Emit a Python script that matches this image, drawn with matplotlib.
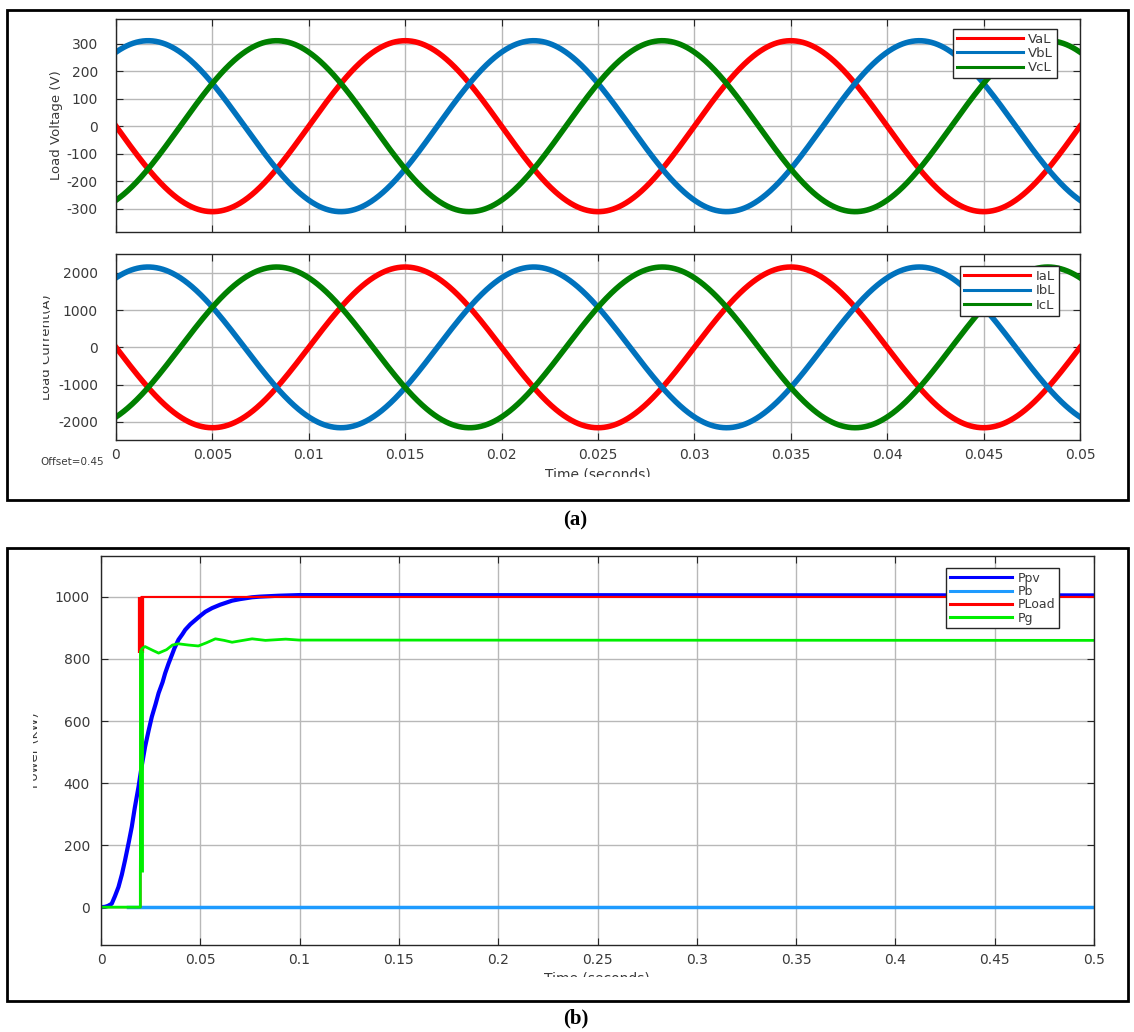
import numpy as np
import matplotlib
matplotlib.use("Agg")
from matplotlib import pyplot as plt
from matplotlib.patches import Rectangle
from matplotlib.transforms import Bbox

# ---- data ----
# (a) three phase load voltage / current, 50 Hz sinusoids
freq = 50.0
phase_deg = [0, -120, 120]          # a, b, c
v_peak = 311.0
i_peak = 2160.0
v_names = ["VaL", "VbL", "VcL"]
i_names = ["IaL", "IbL", "IcL"]
phase_colors = ["#ff0000", "#0072bd", "#008000"]
t_ac_end = 0.05
a_xticks = [0, 0.005, 0.01, 0.015, 0.02, 0.025, 0.03, 0.035, 0.04, 0.045, 0.05]
a_xlabels = ["0", "0.005", "0.01", "0.015", "0.02", "0.025", "0.03", "0.035", "0.04", "0.045", "0.05"]
v_ticks = [-300, -200, -100, 0, 100, 200, 300]
i_ticks = [-2000, -1000, 0, 1000, 2000]

# (b) power flow
ppv_t = [0, 0.002, 0.0035, 0.0054, 0.007, 0.0088, 0.0105, 0.0121, 0.014, 0.0155,
         0.017, 0.0189, 0.0205, 0.0222, 0.024, 0.0256, 0.0275, 0.029, 0.031, 0.0323,
         0.034, 0.0357, 0.037, 0.039, 0.041, 0.0424, 0.045, 0.0492, 0.0525, 0.0559,
         0.06, 0.066, 0.07, 0.0761, 0.08, 0.0896, 0.0997, 0.12, 0.5]
ppv = [0, 1, 4, 11, 35, 65, 105, 151, 210, 259,
       320, 388, 455, 517, 570, 614, 655, 690, 725, 754,
       785, 813, 835, 862, 880, 894, 912, 935, 952, 964,
       975, 988, 993, 999, 1001, 1004, 1006, 1006, 1005]
pb_t = [0.0135, 0.5]
pb = [0, 0]
pload_t = [0, 0.0199, 0.0199, 0.0203, 0.5]
pload = [0, 0, 820, 1000, 1000]
pload_jump = [820, 1000]
pg_t = [0, 0.0198, 0.0198, 0.0203, 0.0209, 0.0222, 0.026, 0.029, 0.033, 0.036, 0.039,
        0.044, 0.049, 0.053, 0.0576, 0.062, 0.066, 0.0761, 0.0828, 0.093, 0.0997, 0.5]
pg = [0, 0, 113, 830, 835, 840, 828, 819, 830, 845, 849,
      845, 842, 852, 865, 860, 854, 865, 860, 864, 861, 860]
pg_jump = [113, 830]
b_xticks = [0, 0.05, 0.1, 0.15, 0.2, 0.25, 0.3, 0.35, 0.4, 0.45, 0.5]
b_xlabels = ["0", "0.05", "0.1", "0.15", "0.2", "0.25", "0.3", "0.35", "0.4", "0.45", "0.5"]
b_yticks = [0, 200, 400, 600, 800, 1000]

W, H = 1134, 1032
TXT = "#3a3a3a"
plt.rcParams["font.family"] = ["DejaVu Sans"]
plt.rcParams["axes.unicode_minus"] = False


def px_axes(fig, left, top, right, bottom):
    return fig.add_axes([left / W, 1 - bottom / H, (right - left) / W, (bottom - top) / H])


def style(ax):
    ax.grid(True, color="#b8b8b8", lw=1)
    ax.set_axisbelow(True)
    for s in ax.spines.values():
        s.set_color("#262626")
        s.set_linewidth(1)
    ax.tick_params(direction="in", length=5, top=True, right=True,
                   labelsize=10, colors="#262626", labelcolor=TXT, pad=6)


def add_legend(ax, anchor, fs, spacing):
    leg = ax.legend(loc="upper left", bbox_to_anchor=anchor, fontsize=fs,
                    handlelength=5, handletextpad=0.4, borderpad=0.3,
                    labelspacing=spacing, fancybox=False, framealpha=1,
                    edgecolor="#262626", borderaxespad=0)
    for h in leg.get_lines():
        h.set_linewidth(2.2)
    for tx in leg.get_texts():
        tx.set_color(TXT)
    return leg


def clipped_text(fig, x, y, s, clip, **kw):
    t = fig.text(x / W, 1 - y / H, s, color=TXT, **kw)
    x0, y0, x1, y1 = clip
    t.set_clip_box(Bbox.from_extents(x0, H - y1, x1, H - y0))
    t.set_clip_on(True)
    return t


fig = plt.figure(figsize=(W / 100, H / 100), dpi=100)

# frames round the two panels
fig.patches.append(Rectangle((7 / W, 1 - 500 / H), 1121 / W, 490 / H, fill=False,
                             lw=2, ec="black", transform=fig.transFigure))
fig.patches.append(Rectangle((7 / W, 1 - 1001 / H), 1121 / W, 453 / H, fill=False,
                             lw=2, ec="black", transform=fig.transFigure))

t = np.linspace(0, t_ac_end, 1500)
w = 2 * np.pi * freq

# ---- voltage ----
ax1 = px_axes(fig, 116, 19, 1080, 232)
style(ax1)
for name, ph, c in zip(v_names, phase_deg, phase_colors):
    ax1.plot(t, -v_peak * np.sin(w * t + np.deg2rad(ph)), color=c, lw=4, label=name)
ax1.set_xlim(0, t_ac_end)
ax1.set_ylim(-385, 390)
ax1.set_xticks(a_xticks)
ax1.set_xticklabels([])
ax1.set_yticks(v_ticks)
ax1.tick_params(axis="y", pad=13)
add_legend(ax1, (0.868, 0.955), 9.5, 0.1)
clipped_text(fig, 63, 125, "Load Voltage (V)", (0, 0, W, H), rotation=90,
             ha="right", va="center", fontsize=9.5)

# ---- current ----
ax2 = px_axes(fig, 116, 254, 1080, 440)
style(ax2)
for name, ph, c in zip(i_names, phase_deg, phase_colors):
    ax2.plot(t, -i_peak * np.sin(w * t + np.deg2rad(ph)), color=c, lw=4, label=name)
ax2.set_xlim(0, t_ac_end)
ax2.set_ylim(-2490, 2510)
ax2.set_xticks(a_xticks)
ax2.set_xticklabels(a_xlabels)
ax2.set_yticks(i_ticks)
ax2.tick_params(axis="y", pad=13)
add_legend(ax2, (0.876, 0.935), 9.5, 0.1)
clipped_text(fig, 53, 347, "Load Current(A)", (43, 0, W, H), rotation=90,
             ha="right", va="center", fontsize=9.5)
clipped_text(fig, 598, 468, "Time (seconds)", (0, 0, W, 477), ha="center",
             va="top", fontsize=10)
fig.text(40 / W, 1 - 462 / H, "Offset=0.45", color=TXT, fontsize=7.5,
         ha="left", va="center")

# ---- power ----
ax3 = px_axes(fig, 101, 556, 1094, 945)
style(ax3)
ax3.plot(ppv_t, ppv, color="#0000ff", lw=3, label="Ppv")
ax3.plot(pb_t, pb, color="#1e9bff", lw=2.5, label="Pb")
ax3.plot(pload_t, pload, color="#ff0000", lw=1.5, label="PLoad")
ax3.plot([pload_t[1], pload_t[1]], pload_jump, color="#ff0000", lw=4.5, solid_capstyle="butt")
ax3.plot(pg_t, pg, color="#00ee00", lw=2, label="Pg")
ax3.plot([pg_t[1] + 0.0002, pg_t[1] + 0.0002], pg_jump, color="#00ee00", lw=3.5,
         solid_capstyle="butt")
ax3.set_xlim(0, 0.5)
ax3.set_ylim(-122, 1132)
ax3.set_xticks(b_xticks)
ax3.set_xticklabels(b_xlabels)
ax3.set_yticks(b_yticks)
ax3.tick_params(axis="y", pad=8)
add_legend(ax3, (0.851, 0.969), 9, 0.02)
clipped_text(fig, 41, 750, "Power (kW)", (33, 0, W, H), rotation=90,
             ha="right", va="center", fontsize=9.5)
clipped_text(fig, 597, 971, "Time (seconds)", (0, 0, W, 977), ha="center",
             va="top", fontsize=10)

# panel captions
fig.text(575 / W, 1 - 520 / H, "(a)", fontsize=15, fontweight="bold",
         family="Liberation Serif", ha="center", va="center")
fig.text(576 / W, 1 - 1018 / H, "(b)", fontsize=15, fontweight="bold",
         family="Liberation Serif", ha="center", va="center")

fig.savefig("out.png", dpi=100)
plt.close(fig)
